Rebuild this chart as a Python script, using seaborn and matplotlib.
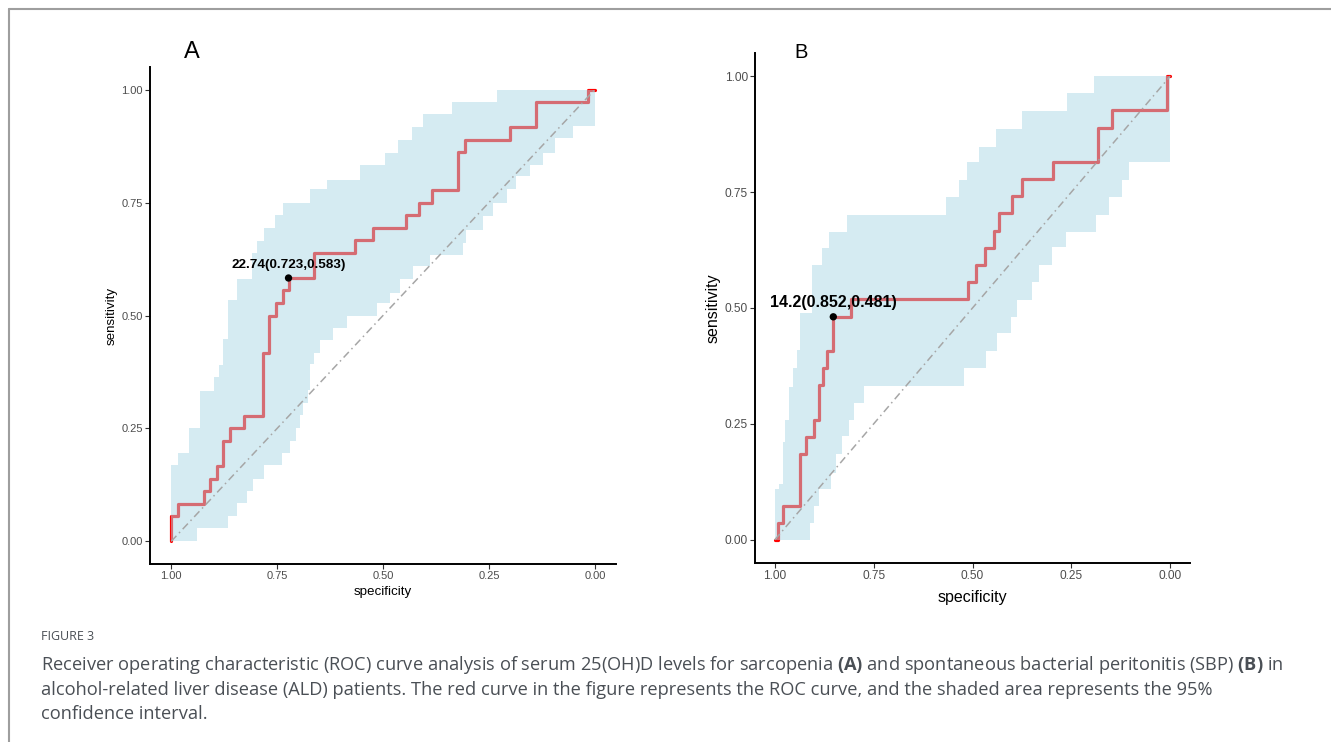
import matplotlib
matplotlib.use("Agg")
import matplotlib.pyplot as plt
from matplotlib.lines import Line2D
import seaborn as sns

sns.set_theme(style="ticks")
plt.rcParams["font.family"] = ["Liberation Sans", "DejaVu Sans"]
plt.rcParams["mathtext.fontset"] = "custom"
plt.rcParams["mathtext.rm"] = "Open Sans"
plt.rcParams["mathtext.bf"] = "Open Sans:bold"

# ---- panel A: sarcopenia ----
# ROC curve: specificity where the curve steps up, and the new sensitivity
roc_a_spec = [1.0, 0.985, 0.922, 0.908, 0.892, 0.877, 0.861, 0.829, 0.784, 0.768, 0.752,
              0.737, 0.723, 0.662, 0.566, 0.523, 0.446, 0.415, 0.385, 0.323, 0.307, 0.200,
              0.139, 0.016, 0.0]
roc_a_sens = [0.056, 0.083, 0.111, 0.139, 0.167, 0.222, 0.250, 0.278, 0.417, 0.500, 0.528,
              0.556, 0.583, 0.639, 0.667, 0.694, 0.722, 0.750, 0.778, 0.861, 0.889, 0.917,
              0.972, 1.0, 1.0]
# 95% CI band
ci_a_up_spec = [1.0, 0.985, 0.957, 0.932, 0.900, 0.888, 0.877, 0.865, 0.845, 0.810, 0.798,
                0.782, 0.755, 0.737, 0.672, 0.633, 0.554, 0.495, 0.464, 0.432, 0.405, 0.338,
                0.232, 0.0]
ci_a_up = [0.169, 0.195, 0.251, 0.334, 0.363, 0.390, 0.447, 0.535, 0.580, 0.639, 0.664,
           0.694, 0.723, 0.749, 0.779, 0.801, 0.834, 0.860, 0.889, 0.917, 0.945, 0.972,
           1.0, 1.0]
ci_a_lo_spec = [1.0, 0.939, 0.866, 0.845, 0.822, 0.806, 0.782, 0.739, 0.719, 0.705, 0.696,
                0.688, 0.676, 0.672, 0.664, 0.649, 0.617, 0.586, 0.515, 0.483, 0.460, 0.429,
                0.389, 0.311, 0.303, 0.263, 0.240, 0.208, 0.185, 0.153, 0.122, 0.094, 0.051,
                0.0]
ci_a_lo = [0.0, 0.029, 0.056, 0.084, 0.111, 0.139, 0.169, 0.196, 0.223, 0.251, 0.279,
           0.307, 0.336, 0.392, 0.417, 0.445, 0.473, 0.500, 0.528, 0.550, 0.580, 0.609,
           0.635, 0.661, 0.690, 0.720, 0.749, 0.779, 0.808, 0.834, 0.860, 0.893, 0.919,
           0.919]
best_a = (0.723, 0.583)
best_a_label = "22.74(0.723,0.583)"

# ---- panel B: SBP ----
roc_b_spec = [1.0, 0.992, 0.980, 0.935, 0.922, 0.901, 0.889, 0.878, 0.867, 0.852, 0.807,
              0.512, 0.490, 0.468, 0.445, 0.433, 0.399, 0.376, 0.296, 0.183, 0.148, 0.009,
              0.0]
roc_b_sens = [0.0, 0.037, 0.074, 0.185, 0.222, 0.259, 0.333, 0.370, 0.407, 0.481, 0.519,
              0.556, 0.593, 0.630, 0.667, 0.704, 0.741, 0.778, 0.815, 0.889, 0.926, 1.0,
              1.0]
ci_b_up_spec = [1.0, 0.990, 0.980, 0.973, 0.965, 0.955, 0.945, 0.935, 0.906, 0.880, 0.863,
                0.817, 0.568, 0.534, 0.513, 0.484, 0.441, 0.374, 0.260, 0.192, 0.0]
ci_b_up = [0.109, 0.120, 0.210, 0.259, 0.330, 0.370, 0.410, 0.490, 0.593, 0.629, 0.664,
           0.700, 0.740, 0.776, 0.815, 0.848, 0.887, 0.925, 0.963, 1.0, 1.0]
ci_b_lo_spec = [1.0, 0.912, 0.900, 0.888, 0.859, 0.846, 0.830, 0.813, 0.800, 0.775, 0.522,
                0.467, 0.437, 0.403, 0.387, 0.349, 0.332, 0.298, 0.264, 0.188, 0.154, 0.121,
                0.104, 0.0]
ci_b_lo = [0.0, 0.037, 0.074, 0.109, 0.145, 0.185, 0.223, 0.259, 0.295, 0.332, 0.370,
           0.407, 0.445, 0.481, 0.517, 0.555, 0.593, 0.631, 0.664, 0.700, 0.740, 0.776,
           0.815, 0.815]
best_b = (0.852, 0.481)
best_b_label = "14.2(0.852,0.481)"

ticks = [1.0, 0.75, 0.5, 0.25, 0.0]
tick_labels = ["1.00", "0.75", "0.50", "0.25", "0.00"]

caption_title = "FIGURE 3"
caption_lines = [
    "Receiver operating characteristic (ROC) curve analysis of serum 25(OH)D levels for sarcopenia "
    "$\\mathbf{(A)}$ and spontaneous bacterial peritonitis (SBP) $\\mathbf{(B)}$ in",
    "alcohol-related liver disease (ALD) patients. The red curve in the figure represents the ROC "
    "curve, and the shaded area represents the 95%",
    "confidence interval.",
]

W, H = 1331, 742


def stairs(spec, vals, start):
    xs, ys = [spec[0]], [start]
    prev = start
    for s, v in zip(spec, vals):
        xs += [s, s]
        ys += [prev, v]
        prev = v
    return xs, ys


def add_px_axes(fig, left, top, right, bottom):
    return fig.add_axes([left / W, 1 - bottom / H, (right - left) / W, (bottom - top) / H])


def draw_panel(ax, roc_spec, roc_sens, up_spec, up, lo_spec, lo, best, label,
               tick_fs, lab_fs, ann_fs, xlabpad, ylabpad):
    rx, ry = stairs(roc_spec, roc_sens, 0.0)
    sns.lineplot(x=rx, y=ry, sort=False, estimator=None, color="#ff0000", lw=2.3,
                 ax=ax, zorder=2)
    ux, uy = stairs(up_spec, up, lo[0])
    lx, ly = stairs(lo_spec, lo, lo[0])
    ax.fill(ux + lx[::-1], uy + ly[::-1], color="#add8e6", alpha=0.5, lw=0, zorder=3)
    ax.plot([1, 0], [0, 1], color="#a6a6a6", lw=1.1, ls=(0, (5, 2.5, 1, 2.5)), zorder=4)
    sns.scatterplot(x=[best[0]], y=[best[1]], color="black", s=28, edgecolor="none",
                    ax=ax, zorder=6)
    ax.annotate(label, best, xytext=(0, 5), textcoords="offset points", ha="center",
                va="bottom", fontsize=ann_fs, fontweight="bold", color="black", zorder=7)

    ax.set_xlim(1.05, -0.05)
    ax.set_ylim(-0.05, 1.05)
    ax.set_xticks(ticks)
    ax.set_xticklabels(tick_labels)
    ax.set_yticks(ticks)
    ax.set_yticklabels(tick_labels)
    ax.set_xlabel("specificity", fontsize=lab_fs, color="black", labelpad=xlabpad)
    ax.set_ylabel("sensitivity", fontsize=lab_fs, color="black", labelpad=ylabpad)
    ax.tick_params(labelsize=tick_fs, labelcolor="#4d4d4d", color="#333333", length=3.5,
                   width=0.8, pad=1.5)
    sns.despine(ax=ax)
    for sp in ("left", "bottom"):
        ax.spines[sp].set_linewidth(1.4)
        ax.spines[sp].set_color("black")
    ax.set_facecolor("white")


fig = plt.figure(figsize=(W / 100, H / 100), dpi=100)
fig.patch.set_facecolor("white")

ax_a = add_px_axes(fig, 150, 67, 616, 564)
draw_panel(ax_a, roc_a_spec, roc_a_sens, ci_a_up_spec, ci_a_up, ci_a_lo_spec, ci_a_lo,
           best_a, best_a_label, 8, 9.6, 9.7, 4, 3)
ax_b = add_px_axes(fig, 755, 53, 1190, 563)
draw_panel(ax_b, roc_b_spec, roc_b_sens, ci_b_up_spec, ci_b_up, ci_b_lo_spec, ci_b_lo,
           best_b, best_b_label, 8.6, 11.5, 11.5, 5.5, 3)

fig.text(192 / W, 1 - 52 / H, "A", ha="center", va="center", fontsize=17, color="black")
fig.text(801 / W, 1 - 52 / H, "B", ha="center", va="center", fontsize=14.5, color="black")

# frame lines of the figure box
fig.add_artist(Line2D([9 / W, 1], [1 - 9 / H, 1 - 9 / H], color="#9e9e9e", lw=1.5))
fig.add_artist(Line2D([9 / W, 9 / W], [0, 1 - 9 / H], color="#9e9e9e", lw=1.5))

cap_color = "#4a4f55"
fig.text(41 / W, 1 - 637 / H, caption_title, ha="left", va="center", fontsize=9,
         family="Open Sans", color=cap_color)
cap_y = [665, 690, 714]
texts = []
for line, y in zip(caption_lines, cap_y):
    texts.append(fig.text(41 / W, 1 - y / H, line, ha="left", va="center", fontsize=11,
                          family="Open Sans", color=cap_color))
renderer = fig.canvas.get_renderer()
w1 = texts[0].get_window_extent(renderer).width
fs = 11 * 1242 / w1
for t in texts:
    t.set_fontsize(fs)

fig.savefig("out.png", dpi=100, facecolor="white")
